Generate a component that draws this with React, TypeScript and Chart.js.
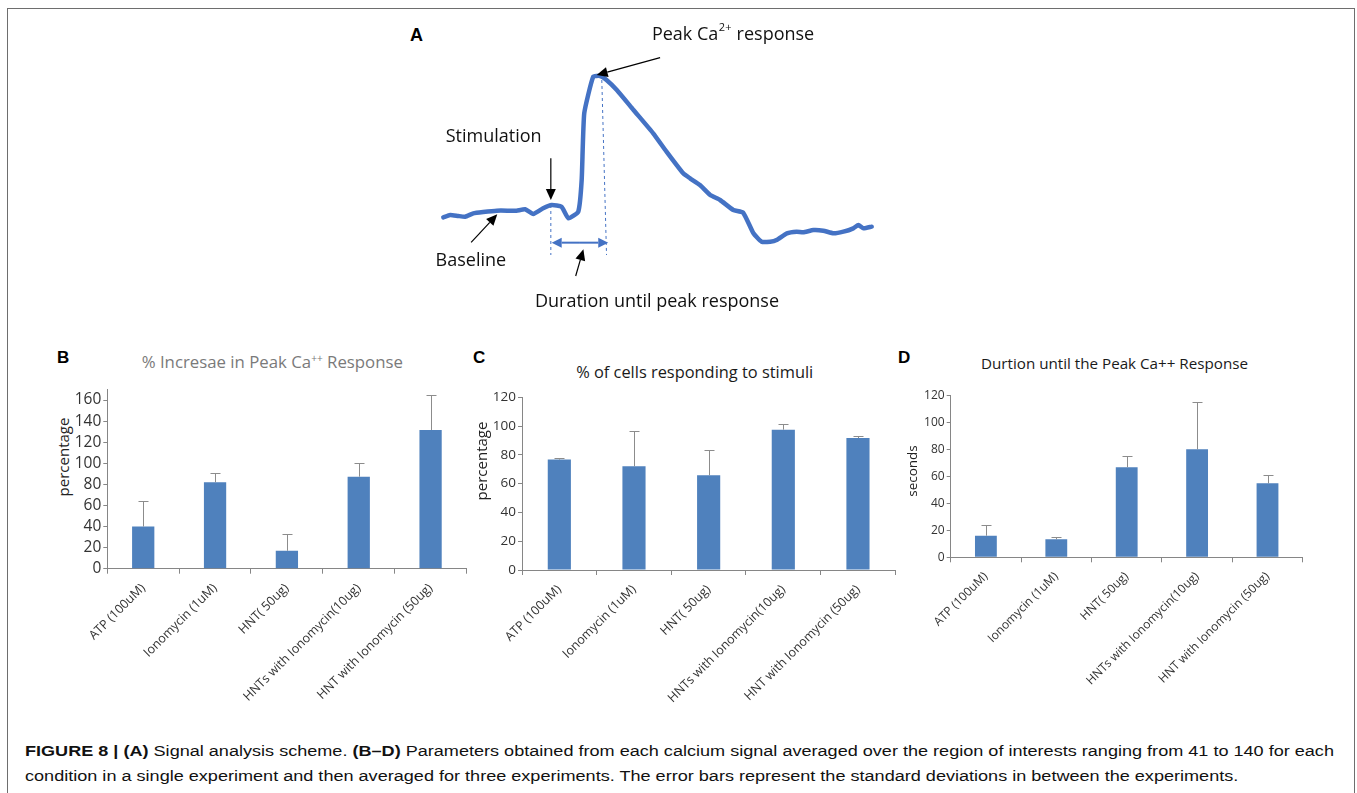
import React, { useEffect, useRef } from "react";
import { Chart, registerables } from "chart.js";

Chart.register(...registerables);
Chart.defaults.font.family = "'Open Sans', 'DejaVu Sans', sans-serif";

// ---------- Panel A: schematic calcium trace ----------
const traceTime = [0, 1.6, 3.5, 5.1, 7.0, 9.3, 12.5, 15.6, 17.1, 19.1, 21.0, 23.3, 25.3, 27.6, 29.2, 31.5, 32.3, 32.9, 35.0, 36.6, 38.1, 40.5, 44.4, 49.0, 52.1, 56.0, 57.6, 59.9, 62.3, 64.6, 67.7, 70.0, 72.4, 74.3, 76.3, 77.8, 80.2, 82.5, 84.0, 86.4, 88.7, 91.1, 93.4, 95.7, 96.9, 98.1, 100];
const traceSignal = [21.6, 23, 22.4, 22, 24, 24.8, 25.6, 25.6, 25.6, 26.4, 23.6, 27, 29, 28, 21, 25, 44, 84, 106, 106.4, 104, 98, 86, 72, 61, 48, 45, 41, 35, 32, 26, 24.4, 12, 7, 7, 8, 12, 13, 12.6, 14, 13.6, 12, 13, 15, 17, 15, 16];

// annotation anchors (in trace units: time, signal)
const guideLines = [
  { from: [25.1, 29], to: [25.1, -1] },
  { from: [37.0, 104], to: [38.1, -1] },
];
const durationSpan = { start: 25.3, end: 38.5, level: 6.4 };
const pointerArrows = [
  { from: [50.6, 117.4], to: [35.8, 107] },
  { from: [25.1, 57], to: [25.1, 32] },
  { from: [6.5, 6.6], to: [12.6, 23.4] },
  { from: [30.9, -13.6], to: [32.7, 2.4] },
];
const schemeLabels = [
  { text: "Stimulation", at: [0.56, 70] },
  { text: "Baseline", at: [-1.8, -4.4] },
  { text: "Duration until peak response", at: [21.4, -29] },
];
const peakLabelAt = [48.7, 131];

// ---------- Panels B-D ----------
const categories = [
  "ATP (100uM)",
  "Ionomycin (1uM)",
  "HNT( 50ug)",
  "HNTs with Ionomycin(10ug)",
  "HNT with Ionomycin (50ug)",
];
const peakIncrease = [40, 82, 17, 87.3, 131.6];
const peakIncreaseSD = [24.2, 8.9, 15.5, 13, 33.2];
const respondingCells = [76.7, 72.1, 65.8, 97.5, 91.7];
const respondingCellsSD = [1.3, 24.7, 17.4, 4.2, 1.4];
const durationToPeak = [16, 13.3, 66.7, 80, 54.8];
const durationToPeakSD = [7.9, 2, 8.6, 35, 5.9];
const peakIncreaseTicks = [0, 20, 40, 60, 80, 100, 120, 140, 160];
const respondingTicks = [0, 20, 40, 60, 80, 100, 120];
const durationTicks = [0, 20, 40, 60, 80, 100, 120];

const BAR_BLUE = "#4F81BD";
const TRACE_BLUE = "#4472C4";
const AXIS = "#868686";
const TICK = "#333333";

function arrow(ctx: CanvasRenderingContext2D, x1: number, y1: number, x2: number, y2: number, color: string, lw: number, head: number, half: number) {
  const ang = Math.atan2(y2 - y1, x2 - x1);
  const bx = x2 - Math.cos(ang) * head;
  const by = y2 - Math.sin(ang) * head;
  ctx.strokeStyle = color;
  ctx.fillStyle = color;
  ctx.lineWidth = lw;
  ctx.beginPath();
  ctx.moveTo(x1, y1);
  ctx.lineTo(bx, by);
  ctx.stroke();
  ctx.beginPath();
  ctx.moveTo(x2, y2);
  ctx.lineTo(bx + Math.sin(ang) * half, by - Math.cos(ang) * half);
  ctx.lineTo(bx - Math.sin(ang) * half, by + Math.cos(ang) * half);
  ctx.closePath();
  ctx.fill();
}

const schemePlugin = {
  id: "schemeAnnotations",
  beforeDatasetsDraw(chart: any) {
    const { ctx, scales } = chart;
    const px = (t: number) => scales.x.getPixelForValue(t);
    const py = (s: number) => scales.y.getPixelForValue(s);
    ctx.save();
    ctx.strokeStyle = TRACE_BLUE;
    ctx.lineWidth = 1;
    ctx.setLineDash([3, 3]);
    guideLines.forEach((g) => {
      ctx.beginPath();
      ctx.moveTo(px(g.from[0]), py(g.from[1]));
      ctx.lineTo(px(g.to[0]), py(g.to[1]));
      ctx.stroke();
    });
    ctx.restore();
  },
  afterDatasetsDraw(chart: any) {
    const { ctx, scales } = chart;
    const px = (t: number) => scales.x.getPixelForValue(t);
    const py = (s: number) => scales.y.getPixelForValue(s);
    ctx.save();
    const yL = py(durationSpan.level);
    const xa = px(durationSpan.start);
    const xb = px(durationSpan.end);
    const mid = (xa + xb) / 2;
    arrow(ctx, mid, yL, xa, yL, TRACE_BLUE, 2, 10, 5);
    arrow(ctx, mid, yL, xb, yL, TRACE_BLUE, 2, 10, 5);
    pointerArrows.forEach((a) => {
      arrow(ctx, px(a.from[0]), py(a.from[1]), px(a.to[0]), py(a.to[1]), "#000", 1.2, 11, 5);
    });
    ctx.fillStyle = "#111";
    ctx.textAlign = "left";
    ctx.textBaseline = "middle";
    ctx.font = "18px 'Open Sans'";
    schemeLabels.forEach((l) => ctx.fillText(l.text, px(l.at[0]), py(l.at[1])));
    let xx = px(peakLabelAt[0]);
    const yy = py(peakLabelAt[1]);
    ctx.fillText("Peak Ca", xx, yy);
    xx += ctx.measureText("Peak Ca").width;
    ctx.font = "11px 'Open Sans'";
    ctx.fillText("2+", xx + 0.5, yy - 7);
    xx += ctx.measureText("2+").width + 1;
    ctx.font = "18px 'Open Sans'";
    ctx.fillText(" response", xx, yy);
    ctx.restore();
  },
};

const errorBarPlugin = {
  id: "errorBars",
  afterDatasetsDraw(chart: any) {
    const { ctx } = chart;
    const yScale = chart.scales.y;
    chart.data.datasets.forEach((ds: any, di: number) => {
      const meta = chart.getDatasetMeta(di);
      meta.data.forEach((bar: any, i: number) => {
        const v = ds.data[i];
        const e = ds.errors[i];
        const x = Math.round(bar.x) + 0.5;
        const y0 = yScale.getPixelForValue(v);
        const y1 = Math.round(yScale.getPixelForValue(v + e)) + 0.5;
        ctx.save();
        ctx.strokeStyle = "#8c8c8c";
        ctx.lineWidth = 1;
        ctx.beginPath();
        ctx.moveTo(x, y0);
        ctx.lineTo(x, y1);
        ctx.moveTo(x - 5, y1);
        ctx.lineTo(x + 5, y1);
        ctx.stroke();
        ctx.restore();
      });
    });
  },
};

function SchemeChart() {
  const ref = useRef<HTMLCanvasElement>(null);
  useEffect(() => {
    const chart = new Chart(ref.current!, {
      type: "line",
      data: {
        datasets: [
          {
            data: traceTime.map((t, i) => ({ x: t, y: traceSignal[i] })),
            borderColor: TRACE_BLUE,
            borderWidth: 4.5,
            pointRadius: 0,
            tension: 0.15,
            borderJoinStyle: "round",
            borderCapStyle: "round",
            clip: false as any,
          },
        ],
      },
      options: {
        animation: false,
        responsive: false,
        layout: { padding: { left: 43.3, right: 28.3, top: 8.33, bottom: 16.67 } },
        plugins: { legend: { display: false }, tooltip: { enabled: false } },
        scales: {
          x: { type: "linear", min: 0, max: 100, display: false },
          y: { type: "linear", min: -30, max: 135, display: false },
        },
      },
      plugins: [schemePlugin],
    });
    return () => chart.destroy();
  }, []);
  return <canvas ref={ref} width={500} height={300} style={{ position: "absolute", left: 400, top: 20 }} />;
}

type BarProps = {
  values: number[];
  errors: number[];
  tickValues: number[];
  yMax: number;
  left: number;
  top: number;
  width: number;
  height: number;
  yAxisW: number;
  xAxisH: number;
  padTop: number;
  padRight: number;
  tickSize: number;
  labelSize: number;
};

function BarChart(p: BarProps) {
  const ref = useRef<HTMLCanvasElement>(null);
  useEffect(() => {
    const chart = new Chart(ref.current!, {
      type: "bar",
      data: {
        labels: categories,
        datasets: [
          {
            data: p.values,
            errors: p.errors,
            backgroundColor: BAR_BLUE,
            borderWidth: 0,
            categoryPercentage: 1,
            barPercentage: 0.31,
          } as any,
        ],
      },
      options: {
        animation: false,
        responsive: false,
        layout: { padding: { left: 0, bottom: 0, top: p.padTop, right: p.padRight } },
        plugins: { legend: { display: false }, tooltip: { enabled: false } },
        scales: {
          x: {
            afterFit: (s: any) => {
              s.height = p.xAxisH;
            },
            grid: { display: true, drawOnChartArea: false, drawTicks: true, tickLength: 5, color: AXIS, offset: true },
            border: { display: true, color: AXIS, width: 1 },
            ticks: {
              autoSkip: false,
              maxRotation: 45,
              minRotation: 45,
              color: TICK,
              font: { size: p.labelSize },
              padding: 7,
            },
          },
          y: {
            min: 0,
            max: p.yMax,
            afterBuildTicks: (s: any) => {
              s.ticks = p.tickValues.map((v) => ({ value: v }));
            },
            afterFit: (s: any) => {
              s.width = p.yAxisW;
            },
            grid: { display: true, drawOnChartArea: false, drawTicks: true, tickLength: 4, color: AXIS },
            border: { display: true, color: AXIS, width: 1 },
            ticks: { autoSkip: false, color: TICK, font: { size: p.tickSize }, padding: 2 },
          },
        },
      },
      plugins: [errorBarPlugin],
    });
    return () => chart.destroy();
  }, []);
  return (
    <canvas
      ref={ref}
      width={p.width}
      height={p.height}
      style={{ position: "absolute", left: p.left, top: p.top }}
    />
  );
}

function Label(props: { x: number; y: number; center?: boolean; rotate?: boolean; style?: React.CSSProperties; children: React.ReactNode }) {
  const tx = props.center || props.rotate ? "-50%" : "0";
  return (
    <div
      style={{
        position: "absolute",
        left: props.x,
        top: props.y,
        transform: `translate(${tx}, -50%)${props.rotate ? " rotate(-90deg)" : ""}`,
        whiteSpace: "nowrap",
        lineHeight: 1.2,
        ...props.style,
      }}
    >
      {props.children}
    </div>
  );
}

const letterStyle: React.CSSProperties = { fontFamily: "'Liberation Sans', Arial, sans-serif", fontWeight: "bold", fontSize: 17, color: "#000" };
const titleFont = "'Open Sans', sans-serif";

export default function App() {
  return (
    <div style={{ position: "absolute", left: 0, top: 0, width: 1357, height: 793, overflow: "hidden", background: "#fff" }}>
      <div style={{ position: "absolute", left: 7, top: 8, width: 1346, height: 830, border: "1.5px solid #6e6e6e" }} />

      <Label x={410} y={36} style={{ ...letterStyle, fontSize: 18 }}>A</Label>
      <SchemeChart />

      <Label x={57} y={358} style={letterStyle}>B</Label>
      <Label x={272.3} y={361.7} center style={{ fontFamily: titleFont, fontSize: 16.8, color: "#7a7a7a" }}>
        % Incresae in Peak Ca<sup style={{ fontSize: "0.6em", verticalAlign: "0.55em" }}>++</sup> Response
      </Label>
      <Label x={63.3} y={457} rotate style={{ fontFamily: titleFont, fontSize: 15, color: "#222" }}>percentage</Label>
      <BarChart
        values={peakIncrease}
        errors={peakIncreaseSD}
        tickValues={peakIncreaseTicks}
        yMax={170}
        left={40}
        top={370}
        width={435}
        height={340}
        yAxisW={67.3}
        xAxisH={141.3}
        padTop={19.5}
        padRight={8.5}
        tickSize={15.5}
        labelSize={12.5}
      />

      <Label x={473} y={358} style={letterStyle}>C</Label>
      <Label x={694.7} y={371.7} center style={{ fontFamily: titleFont, fontSize: 16.4, color: "#1a1a1a" }}>
        % of cells responding to stimuli
      </Label>
      <Label x={480.7} y={461} rotate style={{ fontFamily: titleFont, fontSize: 15, color: "#222" }}>percentage</Label>
      <BarChart
        values={respondingCells}
        errors={respondingCellsSD}
        tickValues={respondingTicks}
        yMax={120}
        left={465}
        top={375}
        width={440}
        height={335}
        yAxisW={57}
        xAxisH={140}
        padTop={22.3}
        padRight={9.7}
        tickSize={13.5}
        labelSize={12.5}
      />

      <Label x={898} y={358} style={letterStyle}>D</Label>
      <Label x={1114.5} y={362.7} center style={{ fontFamily: titleFont, fontSize: 15.2, color: "#1a1a1a" }}>
        Durtion until the Peak Ca++ Response
      </Label>
      <Label x={911.7} y={470.5} rotate style={{ fontFamily: titleFont, fontSize: 13.5, color: "#222" }}>seconds</Label>
      <BarChart
        values={durationToPeak}
        errors={durationToPeakSD}
        tickValues={durationTicks}
        yMax={120}
        left={900}
        top={375}
        width={420}
        height={335}
        yAxisW={50.7}
        xAxisH={152.7}
        padTop={20.3}
        padRight={17.3}
        tickSize={12}
        labelSize={12}
      />

      <div
        style={{
          position: "absolute",
          left: 25,
          top: 738,
          fontFamily: "'Liberation Sans', Arial, sans-serif",
          fontSize: 15.5,
          lineHeight: "25px",
          color: "#111",
          whiteSpace: "nowrap",
          transform: "scaleX(1.166)",
          transformOrigin: "0 0",
        }}
      >
        <div>
          <b>FIGURE 8 | (A)</b> Signal analysis scheme. <b>(B–D)</b> Parameters obtained from each calcium signal averaged over the region of interests ranging from 41 to 140 for each
        </div>
        <div>
          condition in a single experiment and then averaged for three experiments. The error bars represent the standard deviations in between the experiments.
        </div>
      </div>
    </div>
  );
}
